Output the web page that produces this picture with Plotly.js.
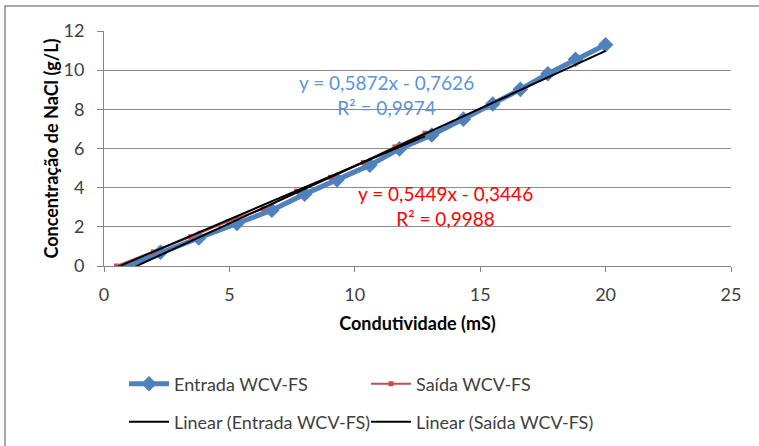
<!DOCTYPE html>
<html>
<head>
<meta charset="utf-8">
<script src="https://cdn.plot.ly/plotly-3.0.1.min.js"></script>
<style>
html,body{margin:0;padding:0;background:#fff;}
#chart{width:759px;height:446px;}
</style>
</head>
<body>
<div id="chart"></div>
<script>
// Data
const entradaX = [0.75, 2.25, 3.78, 5.3, 6.69, 8.0, 9.29, 10.6, 11.78, 13.07, 14.33, 15.5, 16.6, 17.7, 18.8, 20.0];
const entradaY = [-0.08, 0.7, 1.43, 2.17, 2.85, 3.67, 4.4, 5.15, 5.98, 6.69, 7.5, 8.27, 9.02, 9.82, 10.55, 11.3];
const saidaX = [0.5, 1.97, 3.46, 4.95, 6.35, 7.68, 9.03, 10.34, 11.6, 12.8];
const saidaY = [0, 0.72, 1.49, 2.28, 2.92, 3.82, 4.53, 5.29, 6.08, 6.78];
// Trendline coefficients (from the chart's labels)
const entradaFit = [0.5872, -0.7626];
const saidaFit = [0.5449, -0.3446];
const seriesNames = ['Entrada WCV-FS', 'Saída WCV-FS', 'Linear (Entrada WCV-FS)', 'Linear (Saída WCV-FS)'];
const entradaLabel = ['y = 0,5872x - 0,7626', 'R² = 0,9974'];
const saidaLabel = ['y = 0,5449x - 0,3446', 'R² = 0,9988'];
const xTicks = [0, 5, 10, 15, 20, 25];
const yTicks = [0, 2, 4, 6, 8, 10, 12];

function trend(xs, fit) {
  const x0 = Math.min(...xs), x1 = Math.max(...xs);
  return {x: [x0, x1], y: [fit[0] * x0 + fit[1], fit[0] * x1 + fit[1]]};
}
const tE = trend(entradaX, entradaFit);
const tS = trend(saidaX, saidaFit);

const BLUE = '#4F81BD', RED = '#C0504D';
const FONT = 'Lato, "Open Sans", sans-serif';

const traces = [
  {x: entradaX, y: entradaY, name: seriesNames[0], type: 'scatter', mode: 'lines+markers',
   line: {color: BLUE, width: 5}, marker: {symbol: 'diamond', size: 12, color: BLUE},
   cliponaxis: false, legend: 'legend'},
  {x: saidaX, y: saidaY, name: seriesNames[1], type: 'scatter', mode: 'lines+markers',
   line: {color: RED, width: 2}, marker: {symbol: 'square', size: 5, color: RED},
   legend: 'legend2'},
  {x: tE.x, y: tE.y, name: seriesNames[2], type: 'scatter', mode: 'lines',
   line: {color: '#000000', width: 2}, legend: 'legend3'},
  {x: tS.x, y: tS.y, name: seriesNames[3], type: 'scatter', mode: 'lines',
   line: {color: '#000000', width: 2}, legend: 'legend4'},
  // empty helper trace so the tick-mark overlay axis is drawn
  {x: [], y: [], yaxis: 'y2', type: 'scatter', mode: 'lines', showlegend: false, hoverinfo: 'skip'}
];

const W = 759, H = 446;
// plot area: x 104..731 px, y 31..266 px
const px = v => (v - 104) / 627;
const py = v => (266 - v) / 235;
function leg(xpx, ypx) {
  return {x: px(xpx), y: py(ypx), xref: 'paper', yref: 'paper',
    xanchor: 'left', yanchor: 'middle', orientation: 'v',
    bgcolor: 'rgba(0,0,0,0)', font: {family: FONT, size: 18, color: '#404040'},
    itemwidth: 40, borderwidth: 0};
}

const layout = {
  width: W, height: H,
  margin: {l: 104, r: 28, t: 31, b: 180, autoexpand: false},
  paper_bgcolor: '#ffffff', plot_bgcolor: '#ffffff',
  font: {family: FONT, size: 18, color: '#404040'},
  xaxis: {range: [0, 25], tickvals: xTicks, ticktext: xTicks.map(String),
    showgrid: false, zeroline: false, showline: true, linecolor: '#868686', linewidth: 1,
    ticks: 'outside', ticklen: 5, tickcolor: '#868686', ticklabelstandoff: 7,
    tickfont: {family: FONT, size: 18, color: '#404040'},
    title: {text: 'Condutividade (mS)', font: {family: FONT, size: 18, color: '#000000', weight: 'bold'}}},
  yaxis: {range: [0, 12], tickvals: yTicks, ticktext: yTicks.map(String),
    showgrid: true, gridcolor: '#8C8C8C', gridwidth: 1.3, zeroline: false,
    showline: true, linecolor: '#868686', linewidth: 1,
    ticks: 'outside', ticklen: 15, tickcolor: 'rgba(255,255,255,0)',
    tickfont: {family: FONT, size: 18, color: '#404040'},
    title: {text: 'Concentração de NaCl (g/L)', font: {family: FONT, size: 18, color: '#000000', weight: 'bold'}}},
  yaxis2: {range: [0, 12], overlaying: 'y', side: 'left', anchor: 'x', tickvals: yTicks,
    showticklabels: false, ticks: 'outside', ticklen: 6, tickcolor: '#868686',
    showgrid: false, showline: false, zeroline: false},
  showlegend: true,
  legend: leg(124, 384),
  legend2: leg(366, 384),
  legend3: leg(124, 422),
  legend4: leg(366, 422),
  annotations: [
    {x: 11.28, y: 8.75, xref: 'x', yref: 'y', showarrow: false, align: 'center',
     text: entradaLabel.join('<br>'), font: {family: FONT, size: 19, color: '#5D93D8'}},
    {x: 13.6, y: 3.05, xref: 'x', yref: 'y', showarrow: false, align: 'center',
     text: saidaLabel.join('<br>'), font: {family: FONT, size: 19, color: '#FF0000'}}
  ],
  shapes: [
    {type: 'rect', xref: 'paper', yref: 'paper', x0: px(5), y0: py(6), x1: px(900), y1: py(600),
     line: {color: '#8C8C8C', width: 1.5}, fillcolor: 'rgba(0,0,0,0)', layer: 'below'}
  ]
};

Plotly.newPlot('chart', traces, layout, {displayModeBar: false, staticPlot: true});
</script>
</body>
</html>
